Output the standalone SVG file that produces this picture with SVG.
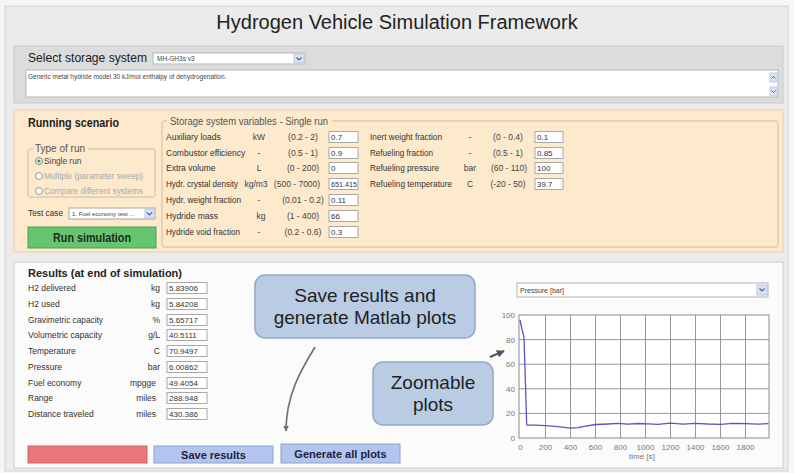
<svg xmlns="http://www.w3.org/2000/svg" width="794" height="473" viewBox="0 0 794 473">
<defs>
<style>
text{font-family:"Liberation Sans",Arial,sans-serif;}
.lbl{font-size:8.5px;fill:#333;}
.unit{font-size:8.5px;fill:#444;text-anchor:middle;}
.rng{font-size:8.5px;fill:#444;text-anchor:middle;}
.val{font-size:8px;fill:#333;}
.box{fill:#fff;stroke:#a8a8a8;stroke-width:1;}
.ax{font-size:8px;fill:#777;}
.grid{stroke:#8c8c8c;stroke-width:0.9;fill:none;}
.btn{font-size:11px;font-weight:bold;fill:#1d2240;text-anchor:middle;}
.call{fill:#b9cce4;stroke:#8fa8c8;stroke-width:1.5;}
.ctext{font-size:19px;fill:#222;text-anchor:middle;}
.dis{font-size:8.3px;fill:#a9a9a9;}
</style>
<marker id="ah" viewBox="0 0 10 10" refX="9" refY="5" markerWidth="6" markerHeight="6" orient="auto-start-reverse" markerUnits="userSpaceOnUse">
<path d="M0,0 L10,5 L0,10 z" fill="#6e6e6e"/>
</marker>
<marker id="ah2" viewBox="0 0 10 10" refX="9" refY="5" markerWidth="8" markerHeight="8" orient="auto" markerUnits="userSpaceOnUse">
<path d="M0,0 L10,5 L0,10 z" fill="#555"/>
</marker>
</defs>

<rect x="0" y="0" width="794" height="473" fill="#f6f6f6"/>
<rect x="5" y="6" width="783" height="465" fill="#ebebeb" stroke="#d2d2d2"/>

<g id="title">
<text x="397" y="29" font-size="20" fill="#222" text-anchor="middle">Hydrogen Vehicle Simulation Framework</text>
</g>

<g id="storage-select">
<rect x="14" y="46" width="769" height="57" fill="#dcdcdc" stroke="#cbcbcb"/>
<text x="28" y="62" font-size="13" fill="#222" textLength="119" lengthAdjust="spacingAndGlyphs">Select storage system</text>
<rect x="153" y="53" width="152" height="11" fill="#fff" stroke="#b4b4b4"/>
<text x="157" y="61" font-size="6.5" fill="#444">MH-GH3s v3</text>
<rect x="294" y="54" width="10" height="9" fill="#dbe4f4" stroke="#b8c5de"/>
<path d="M296.5,57.5 L299,60 L301.5,57.5" fill="none" stroke="#3f5fa8" stroke-width="1.2"/>
<rect x="26" y="70" width="752" height="27" fill="#fff" stroke="#b8b8b8"/>
<text x="28" y="79" font-size="6.5" fill="#444">Generic metal hydride model 30 kJ/mol enthalpy of dehydrogenation.</text>
<rect x="770" y="73" width="7" height="9" fill="#dbe4f4" stroke="#c2cde2"/>
<path d="M771.5,78.5 L773.5,76.5 L775.5,78.5" fill="none" stroke="#3f5fa8" stroke-width="1"/>
<rect x="770" y="87" width="7" height="9" fill="#dbe4f4" stroke="#c2cde2"/>
<path d="M771.5,90.5 L773.5,92.5 L775.5,90.5" fill="none" stroke="#3f5fa8" stroke-width="1"/>
</g>

<g id="running-scenario">
<rect x="14" y="110" width="769" height="142" fill="#fde9cb" stroke="#e5d1b0"/>
<text x="28" y="127" font-size="12" font-weight="bold" fill="#222" textLength="91" lengthAdjust="spacingAndGlyphs">Running scenario</text>
<rect x="28" y="149" width="127" height="48" rx="2" fill="none" stroke="#cdbda3"/>
<rect x="33" y="143" width="55" height="10" fill="#fde9cb"/>
<text x="35" y="151.5" font-size="10" fill="#555" textLength="50" lengthAdjust="spacingAndGlyphs">Type of run</text>
<circle cx="39" cy="161" r="3.5" fill="#f4f4f4" stroke="#6a9274"/>
<circle cx="39" cy="161" r="1.6" fill="#4f8a5e"/>
<text x="44" y="164" font-size="8.3" fill="#444">Single run</text>
<circle cx="39" cy="176" r="3.5" fill="#fafafa" stroke="#9a9a9a"/>
<text x="44" y="179" class="dis" textLength="99" lengthAdjust="spacingAndGlyphs">Multiple (parameter sweep)</text>
<circle cx="39" cy="191" r="3.5" fill="#fafafa" stroke="#9a9a9a"/>
<text x="44" y="194" class="dis" textLength="99" lengthAdjust="spacingAndGlyphs">Compare different systems</text>
<text x="28" y="216" font-size="8.5" fill="#333" textLength="35" lengthAdjust="spacingAndGlyphs">Test case</text>
<rect x="69" y="208" width="86" height="11" fill="#fff" stroke="#a8a8a8"/>
<text x="72" y="216" font-size="6" fill="#444">1. Fuel economy test ...</text>
<rect x="145" y="209" width="9" height="9" fill="#dbe4f4" stroke="#b8c5de"/>
<path d="M147,212.5 L149.5,215 L152,212.5" fill="none" stroke="#3f5fa8" stroke-width="1.1"/>
<rect x="28" y="227" width="128" height="21" fill="#66c670" stroke="#4c9d55"/>
<text x="92" y="242" font-size="12" font-weight="bold" fill="#1e2a1e" text-anchor="middle" textLength="78" lengthAdjust="spacingAndGlyphs">Run simulation</text>
</g>

<g id="storage-vars">
<rect x="162" y="121" width="616" height="126" rx="2" fill="none" stroke="#cdbda3"/>
<rect x="167" y="114" width="165" height="12" fill="#fde9cb"/>
<text x="170" y="124.5" font-size="10" fill="#555" textLength="158" lengthAdjust="spacingAndGlyphs">Storage system variables - Single run</text>

<text class="lbl" x="166" y="140">Auxiliary loads</text>
<text class="unit" x="259" y="140">kW</text>
<text class="rng" x="303" y="140">(0.2 - 2)</text>
<rect class="box" x="329" y="131.5" width="29" height="11"/>
<text class="val" x="331" y="140">0.7</text>

<text class="lbl" x="166" y="156">Combustor efficiency</text>
<text class="unit" x="259" y="156">-</text>
<text class="rng" x="303" y="156">(0.5 - 1)</text>
<rect class="box" x="329" y="147.5" width="29" height="11"/>
<text class="val" x="331" y="156">0.9</text>

<text class="lbl" x="166" y="171">Extra volume</text>
<text class="unit" x="259" y="171">L</text>
<text class="rng" x="303" y="171">(0 - 200)</text>
<rect class="box" x="329" y="162.5" width="29" height="11"/>
<text class="val" x="331" y="171">0</text>

<text class="lbl" x="166" y="187" textLength="72" lengthAdjust="spacingAndGlyphs">Hydr. crystal density</text>
<text class="unit" x="256" y="187">kg/m3</text>
<text class="rng" x="297" y="187">(500 - 7000)</text>
<rect class="box" x="329" y="178.5" width="29" height="11"/>
<text class="val" x="331" y="187" textLength="26" lengthAdjust="spacingAndGlyphs">651.415</text>

<text class="lbl" x="166" y="203" textLength="75" lengthAdjust="spacingAndGlyphs">Hydr. weight fraction</text>
<text class="unit" x="259" y="203">-</text>
<text class="rng" x="303" y="203">(0.01 - 0.2)</text>
<rect class="box" x="329" y="194.5" width="29" height="11"/>
<text class="val" x="331" y="203">0.11</text>

<text class="lbl" x="166" y="219">Hydride mass</text>
<text class="unit" x="261" y="219">kg</text>
<text class="rng" x="303" y="219">(1 - 400)</text>
<rect class="box" x="329" y="210.5" width="29" height="11"/>
<text class="val" x="331" y="219">66</text>

<text class="lbl" x="166" y="235" textLength="74" lengthAdjust="spacingAndGlyphs">Hydride void fraction</text>
<text class="unit" x="259" y="235">-</text>
<text class="rng" x="303" y="235">(0.2 - 0.6)</text>
<rect class="box" x="329" y="226.5" width="29" height="11"/>
<text class="val" x="331" y="235">0.3</text>

<text class="lbl" x="370" y="140" textLength="72" lengthAdjust="spacingAndGlyphs">Inert weight fraction</text>
<text class="unit" x="470" y="140">-</text>
<text class="rng" x="508" y="140">(0 - 0.4)</text>
<rect class="box" x="535" y="131.5" width="28" height="11"/>
<text class="val" x="537" y="140">0.1</text>

<text class="lbl" x="370" y="156" textLength="63" lengthAdjust="spacingAndGlyphs">Refueling fraction</text>
<text class="unit" x="470" y="156">-</text>
<text class="rng" x="508" y="156">(0.5 - 1)</text>
<rect class="box" x="535" y="147.5" width="28" height="11"/>
<text class="val" x="537" y="156">0.85</text>

<text class="lbl" x="370" y="171" textLength="69" lengthAdjust="spacingAndGlyphs">Refueling pressure</text>
<text class="unit" x="470" y="171">bar</text>
<text class="rng" x="509" y="171">(60 - 110)</text>
<rect class="box" x="535" y="162.5" width="28" height="11"/>
<text class="val" x="537" y="171">100</text>

<text class="lbl" x="370" y="187" textLength="82" lengthAdjust="spacingAndGlyphs">Refueling temperature</text>
<text class="unit" x="470" y="187">C</text>
<text class="rng" x="508" y="187">(-20 - 50)</text>
<rect class="box" x="535" y="178.5" width="28" height="11"/>
<text class="val" x="537" y="187">39.7</text>
</g>

<g id="results">
<rect x="14" y="262" width="769" height="206" fill="#fbfbfb" stroke="#cdcdcd"/>
<text x="28" y="277" font-size="11.5" font-weight="bold" fill="#222" textLength="154" lengthAdjust="spacingAndGlyphs">Results (at end of simulation)</text>

<text class="lbl" x="28" y="291">H2 delivered</text>
<text class="lbl" x="160" y="291" text-anchor="end">kg</text>
<rect class="box" x="167" y="282.5" width="40" height="11"/>
<text class="val" x="169" y="291">5.83906</text>

<text class="lbl" x="28" y="307">H2 used</text>
<text class="lbl" x="160" y="307" text-anchor="end">kg</text>
<rect class="box" x="167" y="298.5" width="40" height="11"/>
<text class="val" x="169" y="307">5.84208</text>

<text class="lbl" x="28" y="323" textLength="75" lengthAdjust="spacingAndGlyphs">Gravimetric capacity</text>
<text class="lbl" x="160" y="323" text-anchor="end">%</text>
<rect class="box" x="167" y="314.5" width="40" height="11"/>
<text class="val" x="169" y="323">5.65717</text>

<text class="lbl" x="28" y="338" textLength="74" lengthAdjust="spacingAndGlyphs">Volumetric capacity</text>
<text class="lbl" x="160" y="338" text-anchor="end">g/L</text>
<rect class="box" x="167" y="329.5" width="40" height="11"/>
<text class="val" x="169" y="338">40.5111</text>

<text class="lbl" x="28" y="354">Temperature</text>
<text class="lbl" x="160" y="354" text-anchor="end">C</text>
<rect class="box" x="167" y="345.5" width="40" height="11"/>
<text class="val" x="169" y="354">70.9497</text>

<text class="lbl" x="28" y="370">Pressure</text>
<text class="lbl" x="160" y="370" text-anchor="end">bar</text>
<rect class="box" x="167" y="361.5" width="40" height="11"/>
<text class="val" x="169" y="370">6.00862</text>

<text class="lbl" x="28" y="386">Fuel economy</text>
<text class="lbl" x="156" y="386" text-anchor="end">mpgge</text>
<rect class="box" x="167" y="377.5" width="40" height="11"/>
<text class="val" x="169" y="386">49.4054</text>

<text class="lbl" x="28" y="401">Range</text>
<text class="lbl" x="156" y="401" text-anchor="end">miles</text>
<rect class="box" x="167" y="392.5" width="40" height="11"/>
<text class="val" x="169" y="401">288.948</text>

<text class="lbl" x="28" y="417">Distance traveled</text>
<text class="lbl" x="156" y="417" text-anchor="end">miles</text>
<rect class="box" x="167" y="408.5" width="40" height="11"/>
<text class="val" x="169" y="417">430.386</text>
</g>

<g id="buttons">
<rect x="28" y="446" width="119" height="17" fill="#e9767b" stroke="#c9666b"/>
<rect x="154" y="446" width="119" height="17" fill="#b3c5ee" stroke="#8ea2cf"/>
<text class="btn" x="213.5" y="458.5">Save results</text>
<rect x="281" y="444" width="119" height="19" fill="#b3c5ee" stroke="#8ea2cf"/>
<text class="btn" x="340.5" y="457.5">Generate all plots</text>
</g>

<g id="callout-save">
<rect class="call" x="255" y="275" width="220" height="63" rx="10"/>
<text class="ctext" x="365" y="302">Save results and</text>
<text class="ctext" x="365" y="324">generate Matlab plots</text>
</g>

<g id="callout-zoom">
<rect class="call" x="373" y="362" width="120" height="63" rx="10"/>
<text class="ctext" x="433" y="389">Zoomable</text>
<text class="ctext" x="433" y="411">plots</text>
</g>

<g id="plot">
<rect x="517" y="283" width="251" height="14" fill="#fff" stroke="#b4b4b4"/>
<text x="520" y="292.5" font-size="7" fill="#444">Pressure [bar]</text>
<rect x="757" y="285" width="10" height="10" fill="#dbe4f4" stroke="#b8c5de"/>
<path d="M759.5,288.5 L762,291 L764.5,288.5" fill="none" stroke="#3f5fa8" stroke-width="1.2"/>
<rect x="519" y="315" width="250" height="123" fill="#fff"/>
<path class="grid" d="M545.5,315V438M570.5,315V438M595.5,315V438M620.5,315V438M645.5,315V438M670.5,315V438M695.5,315V438M720.5,315V438M745.5,315V438M519,339.6H769M519,364.2H769M519,388.8H769M519,413.4H769"/>
<rect x="519" y="315" width="250" height="123" fill="none" stroke="#8c8c8c"/>
<g class="ax" text-anchor="end">
<text x="515" y="318">100</text>
<text x="515" y="342.5">80</text>
<text x="515" y="367">60</text>
<text x="515" y="391.5">40</text>
<text x="515" y="416">20</text>
<text x="515" y="441">0</text>
</g>
<g class="ax" text-anchor="middle">
<text x="520.5" y="450">0</text>
<text x="545.5" y="450">200</text>
<text x="570.5" y="450">400</text>
<text x="595.5" y="450">600</text>
<text x="620.5" y="450">800</text>
<text x="645.5" y="450">1000</text>
<text x="670.5" y="450">1200</text>
<text x="695.5" y="450">1400</text>
<text x="720.5" y="450">1600</text>
<text x="745.5" y="450">1800</text>
<text x="642" y="459">time [s]</text>
</g>
<polyline fill="none" stroke="#5656c8" stroke-width="1.3" points="520,320 522,329.5 524,337 526.7,425 530,425.2 535.5,425.2 545.5,425.7 558,426.7 570.5,428.2 578,427.7 585.5,426.2 595.5,424.5 608,424 618,423.4 628,424.1 638,423.5 648,423.9 658,424.3 670.5,423.2 683,424.1 695.5,423.4 708,424 720.5,424.3 733,423.4 745.5,423.7 758,424.2 768.5,423.6"/>
</g>

<g id="connectors">
<path d="M315,347 C301,370 286,395 286,431" fill="none" stroke="#6e6e6e" stroke-width="1.6" marker-end="url(#ah)"/>
<path d="M490,357 L504,351" fill="none" stroke="#555" stroke-width="2" marker-end="url(#ah2)"/>
</g>
</svg>
